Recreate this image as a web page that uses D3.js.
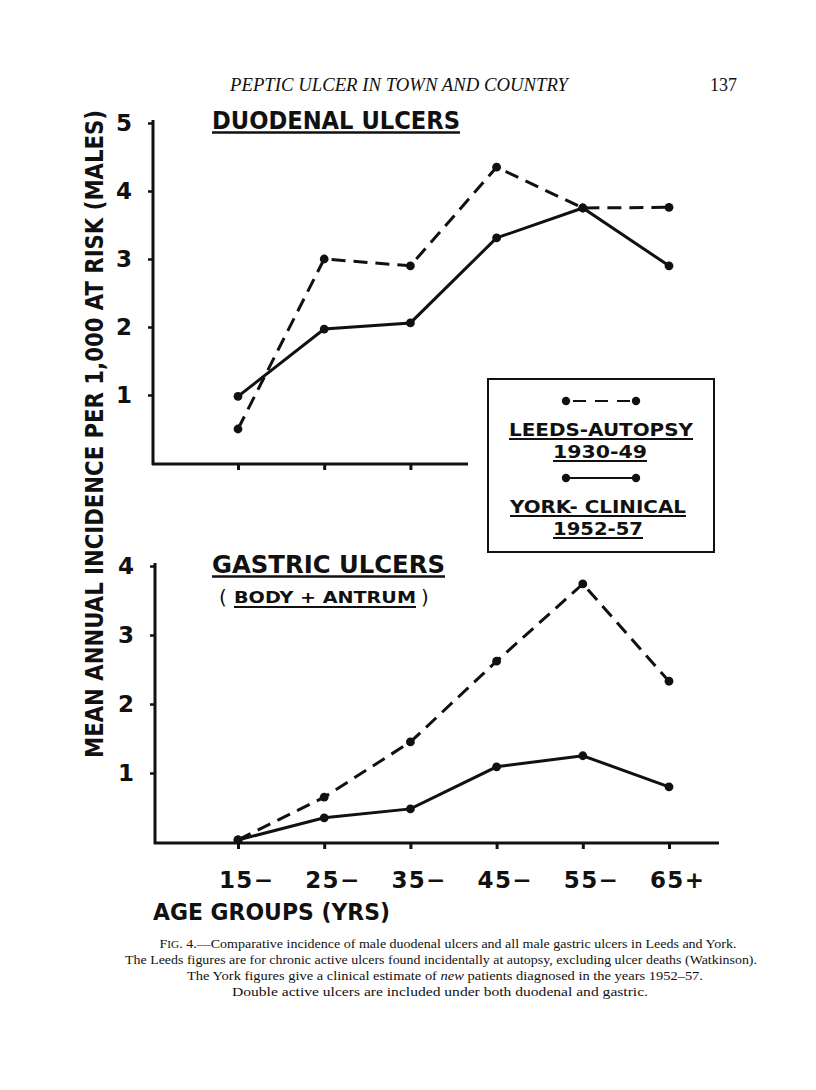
<!DOCTYPE html>
<html><head><meta charset="utf-8">
<script src="https://cdn.jsdelivr.net/npm/d3@7"></script>
<style>body{margin:0;background:#fff}svg{display:block}</style>
</head><body>
<script>
const ageGroups = ["15-","25-","35-","45-","55-","65+"];
const duodenalLeeds = [0.5, 3.0, 2.9, 4.35, 3.75, 3.76];
const duodenalYork  = [0.98, 1.97, 2.06, 3.31, 3.75, 2.9];
const gastricLeeds  = [0.03, 0.65, 1.45, 2.62, 3.74, 2.33];
const gastricYork   = [0.03, 0.35, 0.48, 1.09, 1.25, 0.8];
const duodenalTicks = [1,2,3,4,5];
const gastricTicks  = [1,2,3,4];
const captionLines = [
  "Comparative incidence of male duodenal ulcers and all male gastric ulcers in Leeds and York.",
  "The Leeds figures are for chronic active ulcers found incidentally at autopsy, excluding ulcer deaths (Watkinson).",
  "The York figures give a clinical estimate of new patients diagnosed in the years 1952\u201357.",
  "Double active ulcers are included under both duodenal and gastric."
];

const W=816,H=1090;
const svg=d3.select("body").append("svg").attr("width",W).attr("height",H);
const ink="#111";
const F="'DejaVu Sans', sans-serif";
const SERIF="'Liberation Serif', 'DejaVu Serif', serif";

// header
svg.append("text").attr("x",399).attr("y",91).attr("text-anchor","middle")
 .attr("font-family",SERIF).attr("font-style","italic").attr("font-size",18).attr("fill",ink)
 .attr("textLength",338).attr("lengthAdjust","spacingAndGlyphs")
 .text("PEPTIC ULCER IN TOWN AND COUNTRY");
svg.append("text").attr("x",737).attr("y",91).attr("text-anchor","end")
 .attr("font-family",SERIF).attr("font-size",18).attr("fill",ink).text("137");

const x=d3.scalePoint().domain(ageGroups).range([238,669]);
const yTop=d3.scaleLinear().domain([0,5]).range([463,123]);
const yBot=d3.scaleLinear().domain([0,4]).range([842,566]);

function panel(y, ticks, axisX, yTopPx, yBase, xEnd, xTickCats, leeds, york){
  const g=svg.append("g");
  const ax=g.append("g").attr("transform",`translate(${axisX},0)`)
    .call(d3.axisLeft(y).tickValues(ticks).tickSize(5).tickFormat(d3.format("d")).tickPadding(16));
  ax.select(".domain").remove();
  ax.selectAll(".tick line").attr("stroke",ink).attr("stroke-width",2.5);
  ax.selectAll(".tick text").attr("font-family",F).attr("font-weight","bold").attr("font-size",23).attr("fill",ink);
  g.append("line").attr("x1",axisX).attr("x2",axisX).attr("y1",yTopPx).attr("y2",yBase+1)
    .attr("stroke",ink).attr("stroke-width",3);
  g.append("line").attr("x1",axisX-1).attr("x2",xEnd).attr("y1",yBase).attr("y2",yBase)
    .attr("stroke",ink).attr("stroke-width",3);
  const xa=g.append("g").attr("transform",`translate(0,${yBase})`)
    .call(d3.axisBottom(x).tickValues(xTickCats).tickSize(6).tickFormat(""));
  xa.select(".domain").remove();
  xa.selectAll(".tick line").attr("stroke",ink).attr("stroke-width",3);
  const line=d3.line().x((d,i)=>x(ageGroups[i])).y(d=>y(d));
  g.append("path").datum(leeds).attr("d",line).attr("fill","none").attr("stroke",ink)
    .attr("stroke-width",3).attr("stroke-dasharray","14,8");
  g.append("path").datum(york).attr("d",line).attr("fill","none").attr("stroke",ink).attr("stroke-width",3);
  [leeds,york].forEach(s=>{
    g.selectAll(null).data(s).enter().append("circle")
     .attr("cx",(d,i)=>x(ageGroups[i])).attr("cy",d=>y(d)).attr("r",4.4).attr("fill",ink);
  });
}
panel(yTop,duodenalTicks,153,120,464,468,ageGroups.slice(0,3),duodenalLeeds,duodenalYork);
panel(yBot,gastricTicks,155,563,843,719,ageGroups,gastricLeeds,gastricYork);

function fText(cx,ty,str,size,len,opts={}){
  const anchor=opts.anchor||"middle";
  const t=svg.append("text").attr("x",cx).attr("y",ty).attr("font-family",opts.family||F)
   .attr("font-weight",opts.weight||"bold").attr("font-size",size).attr("fill",ink)
   .attr("text-anchor",anchor).attr("textLength",len).attr("lengthAdjust","spacingAndGlyphs").text(str);
  if(opts.ul!==undefined){
    const x0 = anchor==="middle"? cx-len/2 : cx;
    svg.append("line").attr("x1",x0).attr("x2",x0+len).attr("y1",ty+opts.ul).attr("y2",ty+opts.ul)
      .attr("stroke",ink).attr("stroke-width",opts.uw||2);
  }
  return t;
}
fText(212,129,"DUODENAL  ULCERS",24,248,{anchor:"start",ul:3.5,uw:2.4});
fText(212,573,"GASTRIC  ULCERS",24,233,{anchor:"start",ul:3.5,uw:2.4});
svg.append("text").attr("x",219).attr("y",604).attr("font-family",F).attr("font-size",20).attr("fill",ink).text("(");
fText(234,603,"BODY + ANTRUM",15,182,{anchor:"start",ul:4,uw:1.8});
svg.append("text").attr("x",421).attr("y",604).attr("font-family",F).attr("font-size",20).attr("fill",ink).text(")");

// legend
svg.append("rect").attr("x",488).attr("y",379).attr("width",226).attr("height",173)
  .attr("fill","#fff").attr("stroke",ink).attr("stroke-width",2);
const lg=svg.append("g");
[[401,true],[478,false]].forEach(([ly,dashed])=>{
  const l=lg.append("line").attr("x1",dashed?573:566).attr("x2",dashed?630:636).attr("y1",ly).attr("y2",ly)
    .attr("stroke",ink).attr("stroke-width",2.2);
  if(dashed) l.attr("stroke-dasharray","13,9");
  lg.append("circle").attr("cx",566).attr("cy",ly).attr("r",4.2).attr("fill",ink);
  lg.append("circle").attr("cx",636).attr("cy",ly).attr("r",4.2).attr("fill",ink);
});
fText(601,436,"LEEDS-AUTOPSY",18,184,{ul:3,uw:1.8});
fText(600,458,"1930-49",18,94,{ul:3,uw:1.8});
fText(598,513,"YORK- CLINICAL",18,176,{ul:3,uw:1.8});
fText(598,535,"1952-57",18,90,{ul:3,uw:1.8});

// x tick labels
const xl=svg.append("g");
xl.selectAll("text").data(ageGroups).enter().append("text")
  .attr("x",d=>x(d)+8).attr("y",888).attr("text-anchor","middle")
  .attr("font-family",F).attr("font-weight","bold").attr("font-size",23).attr("fill",ink)
  .attr("textLength",54).attr("lengthAdjust","spacing")
  .text(d=>d.replace("-","\u2212"));
fText(153,920,"AGE  GROUPS (YRS)",23,237,{anchor:"start"});

// y label
svg.append("text").attr("transform","translate(103,434) rotate(-90)").attr("text-anchor","middle")
  .attr("font-family","'DejaVu Sans Condensed', 'DejaVu Sans', sans-serif").attr("font-weight","bold")
  .attr("font-size",24).attr("fill",ink).attr("textLength",648).attr("lengthAdjust","spacingAndGlyphs")
  .text("MEAN ANNUAL INCIDENCE PER 1,000 AT RISK (MALES)");

// caption
const cap=svg.append("g").attr("font-family",SERIF).attr("font-size",13).attr("fill",ink).attr("text-anchor","middle");
function capLine(cx,cy,len){
  return cap.append("text").attr("x",cx).attr("y",cy).attr("textLength",len).attr("lengthAdjust","spacingAndGlyphs");
}
const c0=capLine(448,948,577);
c0.append("tspan").text("F");
c0.append("tspan").attr("font-size",10.5).text("IG");
c0.append("tspan").text(". 4.\u2014"+captionLines[0]);
capLine(441,964,632).text(captionLines[1]);
const c2=capLine(445,980,516);
const parts=captionLines[2].split("new");
c2.append("tspan").text(parts[0]);
c2.append("tspan").attr("font-style","italic").text("new");
c2.append("tspan").text(parts[1]);
capLine(440,996,416).text(captionLines[3]);
</script>
</body></html>
